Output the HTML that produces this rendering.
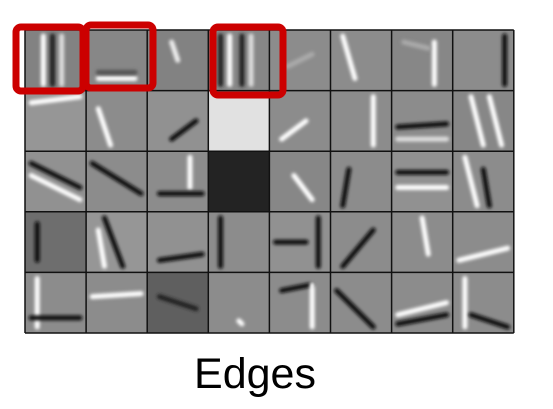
<!DOCTYPE html>
<html><head><meta charset="utf-8"><style>
html,body{margin:0;padding:0;background:#fff;width:553px;height:409px;overflow:hidden}
svg{position:absolute;left:0;top:0}
#title{position:absolute;left:0;width:510px;text-align:center;top:350px;font:43px "Liberation Sans",sans-serif;color:#000}
</style></head><body>
<svg id="s" width="553" height="409">
<defs><filter id="b" filterUnits="userSpaceOnUse" x="0" y="0" width="553" height="409"><feGaussianBlur stdDeviation="1.6"/></filter></defs>
</svg>
<div id="title">Edges</div>
<script>
const cols=8, rows=5, x0=25, y0=30, cw=61.1, ch=60.6;
const bgs=[
 [130,135,130,135,140,140,135,140],
 [150,140,145,225,140,140,140,135],
 [145,140,140,35,135,140,145,140],
 [110,150,145,140,145,140,140,140],
 [140,140,95,140,140,140,140,140]];
const strokes=[
 [[[.3,.1,.3,.9,'#fff'],[.45,.1,.45,.9,'#222'],[.6,.1,.6,.9,'#ddd']],[[.2,.8,.8,.8,'#fff'],[.2,.7,.8,.7,'#555']],[[.4,.2,.5,.5,'#eee']],[[.2,.1,.2,.9,'#222'],[.35,.1,.35,.9,'#fff'],[.55,.1,.55,.9,'#222'],[.7,.1,.7,.9,'#ddd']],[[.3,.6,.7,.4,'#aaa']],[[.2,.1,.4,.8,'#fff']],[[.7,.2,.7,.9,'#fff'],[.2,.2,.6,.3,'#aaa']],[[.85,.1,.85,.9,'#111']]],
 [[[.1,.2,.9,.1,'#fff']],[[.2,.3,.4,.9,'#fff']],[[.4,.8,.8,.5,'#111']],[],[[.2,.8,.6,.5,'#fff']],[[.7,.1,.7,.9,'#fff']],[[.1,.6,.9,.55,'#111'],[.1,.8,.9,.8,'#ddd']],[[.3,.1,.5,.9,'#fff'],[.6,.1,.8,.9,'#fff']]],
 [[[.1,.2,.9,.6,'#111'],[.1,.4,.9,.8,'#fff']],[[.1,.2,.9,.7,'#111']],[[.7,.1,.7,.6,'#fff'],[.2,.7,.9,.7,'#111']],[],[[.4,.4,.7,.8,'#fff']],[[.3,.3,.2,.9,'#111']],[[.1,.35,.9,.35,'#111'],[.1,.6,.9,.6,'#fff']],[[.2,.1,.4,.9,'#fff'],[.5,.3,.6,.9,'#111']]],
 [[[.2,.2,.2,.8,'#111']],[[.3,.1,.6,.9,'#111'],[.2,.3,.3,.9,'#fff']],[[.2,.8,.9,.7,'#111']],[[.2,.1,.2,.9,'#111']],[[.1,.5,.6,.5,'#111'],[.8,.1,.8,.9,'#111']],[[.2,.9,.7,.3,'#111']],[[.5,.1,.6,.7,'#fff']],[[.1,.8,.9,.6,'#fff']]],
 [[[.2,.1,.2,.9,'#fff'],[.1,.75,.9,.75,'#111']],[[.1,.4,.9,.35,'#fff']],[[.2,.4,.8,.6,'#222']],[[.5,.8,.55,.85,'#fff']],[[.2,.3,.7,.2,'#111'],[.7,.2,.7,.9,'#fff']],[[.1,.3,.7,.9,'#111']],[[.1,.7,.9,.5,'#fff'],[.1,.85,.9,.7,'#111']],[[.2,.1,.2,.9,'#fff'],[.3,.7,.9,.9,'#111']]]];
const s=document.getElementById('s');
const NS='http://www.w3.org/2000/svg';
for(let r=0;r<rows;r++)for(let c=0;c<cols;c++){
 const g=document.createElementNS(NS,'g');
 
 
 const x=x0+c*cw,y=y0+r*ch,v=bgs[r][c];
 const rc=document.createElementNS(NS,'rect');
 rc.setAttribute('x',x);rc.setAttribute('y',y);rc.setAttribute('width',cw);rc.setAttribute('height',ch);
 rc.setAttribute('fill',`rgb(${v},${v},${v})`);g.appendChild(rc);
 for(const [a,b,c2,d,col] of strokes[r][c]){
  const l=document.createElementNS(NS,'line');
  l.setAttribute('x1',x+a*cw);l.setAttribute('y1',y+b*ch);l.setAttribute('x2',x+c2*cw);l.setAttribute('y2',y+d*ch);
  l.setAttribute('stroke',col);l.setAttribute('stroke-width',5);l.setAttribute('stroke-linecap','round');l.setAttribute('filter','url(#b)');
  g.appendChild(l);
 }
 s.appendChild(g);
}
for(let i=0;i<=cols;i++){const l=document.createElementNS(NS,'line');l.setAttribute('x1',x0+i*cw);l.setAttribute('x2',x0+i*cw);l.setAttribute('y1',y0);l.setAttribute('y2',y0+rows*ch);l.setAttribute('stroke','#111');l.setAttribute('stroke-width',1.5);s.appendChild(l);}
for(let j=0;j<=rows;j++){const l=document.createElementNS(NS,'line');l.setAttribute('y1',y0+j*ch);l.setAttribute('y2',y0+j*ch);l.setAttribute('x1',x0);l.setAttribute('x2',x0+cols*cw);l.setAttribute('stroke','#111');l.setAttribute('stroke-width',1.5);s.appendChild(l);}
const boxes=[[16,27,67,64],[86,25,67,63],[213,27,70,68]];
for(const [x,y,w,h] of boxes){const r=document.createElementNS(NS,'rect');r.setAttribute('x',x);r.setAttribute('y',y);r.setAttribute('width',w);r.setAttribute('height',h);r.setAttribute('rx',5);r.setAttribute('fill','none');r.setAttribute('stroke','#c00');r.setAttribute('stroke-width',7);


s.appendChild(r);}
</script>
</body></html>
